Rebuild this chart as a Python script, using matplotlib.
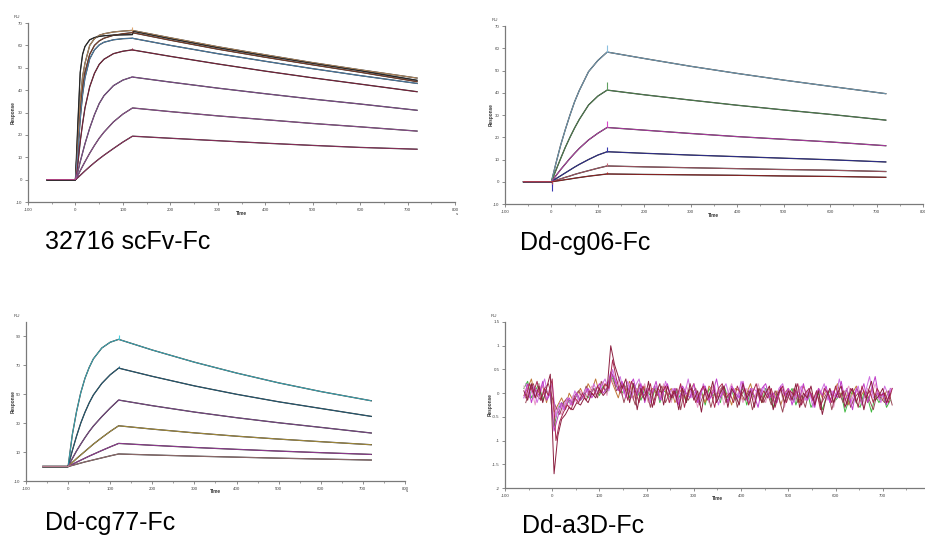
import numpy as np
import matplotlib
matplotlib.use('Agg')
import matplotlib.pyplot as plt
from matplotlib.ticker import MultipleLocator

plt.rcParams['font.family'] = ['Liberation Sans', 'DejaVu Sans']

# --- 32716 scFv-Fc -------------------------------------------------------
P1_TIME = [-60, 0, 5, 10, 15, 20, 30, 40, 50, 60, 80, 100, 120, 122,
           200, 300, 400, 500, 600, 720]
P1_CURVES = [
    [0, 0, 18, 35, 46, 52, 60, 63, 64.5, 65.2, 66.0, 66.4, 66.7, 66.6, 63.4, 59.4, 55.8, 52.3, 49.1, 45.4],
    [0, 0, 14, 30, 41, 48, 56, 60, 62, 63.2, 64.5, 65.2, 65.7, 65.6, 62.3, 58.3, 54.7, 51.3, 48.0, 43.8],
    [0, 0, 25, 48, 56, 59.5, 62.5, 63.5, 64.0, 64.3, 64.6, 64.7, 64.8, 66.3, 63.0, 59.0, 55.4, 52.0, 48.7, 44.4],
    [0, 0, 12, 27, 38, 45.5, 54, 58, 60.2, 61.4, 62.5, 63.0, 63.2, 63.1, 60.0, 56.3, 52.9, 49.6, 46.5, 43.0],
    [0, 0, 7, 17, 25, 32, 41.5, 47.5, 51.5, 53.8, 56.3, 57.4, 58.0, 57.9, 55.1, 51.7, 48.5, 45.5, 42.7, 39.3],
    [0, 0, 3.5, 8, 12, 16, 23, 29, 34, 37.5, 42, 44.5, 45.9, 45.8, 43.6, 40.9, 38.4, 36.0, 33.8, 31.0],
    [0, 0, 1.8, 4, 6, 8, 11.8, 15.3, 18.5, 21.2, 25.8, 29.3, 32.0, 32.0, 30.4, 28.5, 26.8, 25.1, 23.6, 21.7],
    [0, 0, 0.9, 1.9, 2.9, 3.9, 5.8, 7.6, 9.3, 10.9, 13.9, 16.8, 19.4, 19.4, 18.5, 17.4, 16.3, 15.3, 14.4, 13.6],
]
P1_COLORS = ['#e0a870', '#9a4a30', '#303030', '#5a9ad0', '#9a2848', '#a060b0', '#b060b0', '#b03870']
P1_SPIKE = [1.6, 0.6, 0.0, 0.4, 0.9, 0.6, 0.0, 0.0]

# --- Dd-cg06-Fc ----------------------------------------------------------
P2_TIME = [-60, 0, 10, 20, 30, 40, 50, 60, 80, 100, 120, 200, 300, 400, 500, 600, 720]
P2_CURVES = [
    [0, 0, 8.5, 16.5, 23.5, 30, 36, 41, 49.5, 54.5, 58.3, 55.4, 51.9, 48.7, 45.7, 42.9, 39.6],
    [0, 0, 5.3, 10.5, 15.5, 20, 24.2, 28, 34.5, 38.5, 41.2, 39.1, 36.7, 34.4, 32.3, 30.3, 27.7],
    [0, 0, 2.8, 5.5, 8, 10.5, 12.8, 15, 18.8, 21.8, 24.4, 23.2, 21.7, 20.3, 19.1, 17.9, 16.2],
    [0, 0, 1.4, 2.7, 4, 5.3, 6.6, 7.8, 10, 12, 13.5, 12.8, 12.0, 11.3, 10.6, 9.9, 8.9],
    [0, 0, 0.7, 1.3, 2, 2.6, 3.3, 3.9, 5, 6.1, 7.1, 6.7, 6.3, 5.9, 5.5, 5.2, 4.6],
    [0, 0, 0.3, 0.6, 0.95, 1.25, 1.6, 1.9, 2.5, 3.0, 3.5, 3.3, 3.1, 2.9, 2.6, 2.4, 2.0],
]
P2_COLORS = ['#8cc0e0', '#60a060', '#d848c8', '#3838b0', '#c86878', '#b02828']
P2_SPIKE = [3.2, 3.5, 3.0, 2.2, 1.3, 1.0]
P2_DIP = [-1.0, -0.8, -2.0, -4.0, -1.0, -0.6]

# --- Dd-cg77-Fc ----------------------------------------------------------
P3_TIME = [-60, 0, 10, 20, 30, 40, 50, 60, 80, 100, 120, 200, 300, 400, 500, 600, 720]
P3_CURVES = [
    [0, 0, 22, 38, 51, 61, 68.5, 74.5, 82, 86, 88, 80.6, 72.2, 64.7, 57.9, 51.9, 45.5],
    [0, 0, 11, 21, 30, 37.5, 44, 49.5, 57.5, 63.5, 68.1, 62.4, 55.8, 50.0, 44.8, 40.2, 34.7],
    [0, 0, 5.5, 10.8, 15.5, 20, 24.2, 28, 34.5, 40.5, 46, 42.1, 37.7, 33.8, 30.3, 27.1, 23.2],
    [0, 0, 2.8, 5.5, 8, 10.5, 13, 15.5, 20, 24.3, 28.2, 25.9, 23.3, 21.0, 19.0, 17.2, 15.1],
    [0, 0, 1.5, 3, 4.4, 5.8, 7.2, 8.5, 11.1, 13.6, 16, 14.7, 13.2, 11.9, 10.7, 9.6, 8.4],
    [0, 0, 0.8, 1.6, 2.4, 3.2, 3.9, 4.6, 6, 7.4, 8.7, 8.0, 7.2, 6.5, 5.8, 5.2, 4.5],
]
P3_COLORS = ['#48d0e0', '#2a7090', '#9858a8', '#d0b048', '#b848b8', '#b88888']
P3_SPIKE = [3.0, 1.2, 0.8, 0.0, 0.0, 0.0]

# --- Dd-a3D-Fc (noise only, 8 s sampling) ---------------------------------
P4_STEP = 8
P4_STARTS = [-60, -60, -60, -60, -60, -56, -56, -56]
P4_TRACES = [
    [0.05, -0.15, 0.2, -0.1, 0.15, -0.2, 0.1, 0.4,
     -1.7, -0.9, -0.55, -0.45, -0.3, -0.35, -0.2, -0.25, -0.1, -0.2, 0.0, -0.1, 0.1, -0.05, 0.05,
     1.0, 0.6, 0.35, 0.1, 0.3, -0.2, 0.2, -0.35, 0.1, -0.15, 0.25, -0.3, 0.0, 0.2, -0.25, 0.15,
     -0.1, 0.05, -0.35, 0.1, -0.2, 0.2, -0.15, 0.05, -0.4, 0.1, -0.1, 0.25, -0.2, 0.0, 0.15, -0.3,
     0.1, -0.05, -0.25, 0.2, -0.1, 0.05, -0.3, 0.1, -0.2, 0.0, 0.15, -0.35, -0.05, 0.1, -0.2, 0.05,
     -0.15, 0.2, -0.3, 0.0, -0.1, 0.15, -0.25, 0.05, -0.45, -0.1, 0.1, -0.2, 0.0, 0.15, -0.3, -0.05,
     0.1, -0.2, 0.05, -0.35, 0.0, 0.25, -0.15, -0.05, 0.1, -0.2, 0.0],
    [-0.1, 0.2, -0.2, 0.1, -0.05, 0.25, -0.15, 0.0,
     -0.8, -0.5, -0.2, -0.35, -0.1, -0.25, 0.0, -0.15, -0.05, 0.1, -0.1, 0.05, 0.2, 0.0, 0.1,
     0.45, 0.3, 0.05, 0.25, -0.1, 0.15, 0.3, -0.05, 0.2, -0.2, 0.1, 0.0, 0.25, -0.15, 0.05, 0.2,
     -0.1, 0.1, -0.25, 0.15, 0.0, -0.1, 0.2, -0.2, 0.05, 0.15, -0.15, 0.0, 0.3, -0.1, 0.05, -0.2,
     0.15, 0.0, -0.1, 0.25, -0.15, 0.1, -0.05, -0.3, 0.1, 0.2, -0.1, 0.0, -0.2, 0.15, -0.05, 0.1,
     -0.25, 0.05, -0.1, 0.2, -0.15, 0.0, -0.3, 0.1, -0.05, 0.15, -0.2, 0.05, -0.1, 0.25, -0.15, 0.0,
     -0.35, 0.1, -0.05, 0.2, -0.2, 0.05, 0.35, -0.1, 0.0, -0.25, 0.1],
    [0.15, -0.05, 0.1, -0.25, 0.2, 0.0, -0.1, 0.15,
     -0.6, -0.3, -0.45, -0.15, -0.3, -0.05, -0.2, 0.05, -0.1, 0.0, 0.15, -0.05, 0.1, 0.25, -0.05,
     0.35, 0.15, 0.25, -0.05, 0.1, 0.2, -0.15, 0.1, 0.0, 0.2, -0.2, 0.05, 0.15, -0.1, 0.2, 0.0,
     -0.2, 0.1, 0.05, -0.15, 0.15, -0.05, 0.0, -0.3, 0.1, 0.05, -0.2, 0.15, -0.05, 0.1, -0.25, 0.0,
     0.2, -0.1, 0.05, -0.2, 0.1, 0.0, -0.15, 0.2, -0.05, -0.2, 0.1, 0.0, -0.15, 0.05, -0.3, 0.1,
     0.0, -0.1, 0.15, -0.2, 0.05, -0.05, -0.25, 0.1, 0.0, -0.15, 0.1, -0.3, 0.05, -0.1, 0.0, 0.15,
     -0.2, 0.05, -0.1, -0.3, 0.1, -0.05, 0.2, -0.15, 0.0, -0.2, 0.05],
    [0.1, 0.25, -0.1, 0.05, 0.2, -0.15, 0.05, -0.05,
     -0.7, -0.35, -0.2, -0.3, -0.15, -0.2, -0.05, -0.15, 0.0, -0.1, 0.05, 0.1, -0.05, 0.15, 0.0,
     0.4, 0.2, 0.1, 0.0, 0.15, -0.1, 0.2, 0.05, -0.15, 0.1, 0.0, -0.1, 0.15, -0.2, 0.05, 0.0,
     -0.15, 0.1, -0.1, 0.05, -0.2, 0.1, 0.0, -0.15, 0.05, -0.25, 0.1, -0.05, 0.0, -0.2, 0.15, -0.1,
     0.05, -0.15, 0.0, 0.1, -0.25, 0.05, -0.1, 0.0, -0.2, 0.1, -0.05, -0.3, 0.0, 0.05, -0.2, -0.05,
     0.1, -0.25, 0.0, -0.1, 0.05, -0.3, -0.15, 0.0, -0.35, -0.1, 0.05, -0.2, -0.1, 0.0, -0.4, -0.15,
     0.05, -0.2, -0.3, 0.0, -0.1, -0.4, -0.05, -0.2, 0.0, -0.3, -0.15],
    [-0.05, 0.1, 0.3, -0.1, 0.05, 0.15, -0.2, 0.1,
     -0.4, -0.25, -0.1, -0.3, 0.0, -0.15, -0.05, 0.1, -0.1, 0.2, 0.05, 0.3, 0.0, 0.1, 0.2,
     0.3, 0.1, -0.1, 0.2, 0.05, 0.25, -0.1, 0.1, -0.05, 0.15, -0.2, 0.1, 0.0, -0.1, 0.15, -0.05,
     0.1, -0.2, 0.0, 0.1, -0.15, 0.05, 0.2, -0.1, 0.0, -0.2, 0.15, 0.05, -0.1, 0.1, -0.05, 0.0,
     -0.25, 0.1, 0.05, -0.15, 0.0, 0.2, -0.1, 0.05, -0.2, 0.0, 0.1, -0.15, 0.05, -0.25, 0.0, 0.1,
     -0.1, 0.05, -0.2, 0.15, -0.05, 0.0, -0.2, 0.1, -0.1, 0.05, -0.15, 0.0, 0.2, -0.1, 0.05, -0.25,
     0.0, 0.15, -0.1, 0.05, -0.2, 0.1, -0.05, 0.0, -0.15, 0.05, -0.1],
    [-0.1, 0.2, 0.0, 0.25, -0.15, 0.1, -0.05, 0.3,
     -1.0, -0.6, -0.4, -0.25, -0.35, -0.1, -0.2, 0.0, -0.15, 0.05, -0.05, 0.15, 0.0, 0.2, 0.1,
     0.7, 0.3, 0.0, 0.2, -0.15, 0.25, 0.05, -0.2, 0.15, -0.05, 0.2, -0.25, 0.1, 0.0, 0.15, -0.2,
     0.05, -0.1, 0.2, -0.3, 0.05, 0.1, -0.2, 0.0, 0.15, -0.15, 0.05, -0.3, 0.1, 0.2, -0.1, 0.0,
     -0.2, 0.15, -0.05, 0.1, -0.25, 0.0, 0.2, -0.15, 0.05, -0.1, 0.1, -0.3, 0.0, 0.15, -0.2, 0.05,
     -0.05, 0.2, -0.25, 0.0, 0.1, -0.15, 0.05, -0.35, 0.1, 0.0, -0.2, 0.15, -0.1, 0.05, -0.25, 0.1,
     0.0, -0.3, 0.15, -0.1, 0.05, -0.2, 0.1, -0.05, 0.0, -0.2, 0.1],
    [0.2, -0.1, 0.15, -0.2, 0.05, 0.3, -0.1, 0.2,
     -0.5, -0.2, -0.35, -0.1, -0.25, 0.05, -0.15, -0.05, 0.1, -0.1, 0.2, 0.0, 0.15, 0.3, 0.05,
     0.5, 0.2, 0.35, 0.0, 0.25, -0.1, 0.15, 0.3, -0.05, 0.1, -0.2, 0.15, 0.05, -0.15, 0.25, 0.0,
     0.1, -0.2, 0.15, -0.05, 0.3, -0.1, 0.05, -0.2, 0.2, 0.0, -0.1, 0.15, -0.25, 0.05, 0.2, -0.1,
     0.1, -0.15, 0.25, 0.0, -0.2, 0.1, 0.05, -0.15, 0.15, -0.1, 0.0, -0.25, 0.1, 0.2, -0.1, 0.05,
     -0.2, 0.0, 0.15, -0.15, 0.1, -0.3, 0.05, 0.0, 0.2, -0.15, 0.05, -0.1, 0.3, -0.05, 0.1, -0.2,
     0.0, 0.15, -0.25, 0.05, 0.35, -0.1, 0.0, -0.2, 0.15, -0.05, 0.1],
    [-0.2, 0.05, 0.2, -0.05, -0.15, 0.1, 0.2, -0.1,
     -0.3, -0.45, -0.2, -0.1, -0.25, -0.05, 0.05, -0.1, 0.15, -0.05, 0.1, -0.1, 0.25, 0.05, 0.15,
     0.4, 0.05, 0.15, -0.2, 0.1, 0.0, -0.25, 0.2, -0.1, 0.05, -0.3, 0.1, -0.05, 0.15, -0.2, 0.0,
     -0.1, 0.1, -0.35, 0.05, -0.15, 0.0, 0.1, -0.25, -0.05, 0.05, -0.3, 0.0, -0.1, 0.15, -0.2, -0.05,
     0.1, -0.3, 0.0, -0.15, 0.05, -0.35, -0.1, 0.1, -0.2, 0.0, -0.25, 0.05, -0.1, -0.4, 0.0, -0.15,
     0.1, -0.2, -0.05, -0.3, 0.05, -0.15, 0.0, -0.25, -0.1, 0.05, -0.35, -0.05, 0.0, -0.2, 0.1, -0.3,
     -0.1, 0.0, -0.25, 0.05, -0.15, -0.35, 0.0, -0.1, -0.2, 0.05, -0.25],
]
P4_COLORS = ['#8b1e3f', '#c03cc8', '#e89cc8', '#40b840', '#c07838',
             '#a82850', '#d070e0', '#9a4858']
P4_ORDER = [3, 4, 2, 7, 6, 1, 5, 0]

TITLES = ['32716 scFv-Fc', 'Dd-cg06-Fc', 'Dd-cg77-Fc', 'Dd-a3D-Fc']
XTICKS = list(range(-100, 801, 100))

GREY = '#7a7a7a'


def style_axes(ax, ylim, yticks, show_s=True, xlabels=XTICKS):
    ax.set_xlim(-100, 800)
    ax.set_ylim(*ylim)
    ax.set_xticks(XTICKS)
    ax.set_xticklabels([str(v) if v in xlabels else '' for v in XTICKS])
    ax.set_yticks(yticks)
    ax.set_yticklabels(['%g' % v for v in yticks])
    ax.xaxis.set_minor_locator(MultipleLocator(50))
    for side in ('top', 'right'):
        ax.spines[side].set_visible(False)
    for side in ('left', 'bottom'):
        ax.spines[side].set_color(GREY)
        ax.spines[side].set_linewidth(0.9)
    ax.tick_params(which='major', length=2.5, width=0.6, color=GREY,
                   labelsize=3.2, labelcolor='#444444', pad=1.5)
    ax.tick_params(which='minor', length=1.5, width=0.5, color=GREY)
    ax.patch.set_alpha(0)
    ax.text(0.5, -0.065, 'Time', transform=ax.transAxes, ha='center',
            va='center', fontsize=3.4, color='#333333', fontweight='bold')
    ax.text(-0.034, 0.5, 'Response', transform=ax.transAxes, rotation=90,
            ha='center', va='center', fontsize=3.4, color='#333333', fontweight='bold')
    ax.text(-0.025, 1.035, 'RU', transform=ax.transAxes, ha='center',
            va='center', fontsize=3.2, color='#444444')
    if show_s:
        ax.text(1.005, -0.065, 's', transform=ax.transAxes, ha='center',
                va='center', fontsize=3.2, color='#444444')


def draw_kinetics(ax, times, curves, colors, spikes):
    # black fitted curves under thin coloured sensorgram traces
    for ys in curves:
        ax.plot(times, ys, color='#151515', lw=0.9)
    for ys, c, sp in zip(curves, colors, spikes):
        ax.plot(times, ys, color=c, lw=0.55, alpha=0.95)
        if sp:
            top = ys[times.index(120)]
            ax.vlines(120, top, top + sp, color=c, lw=0.8)


fig = plt.figure(figsize=(9.25, 5.39), dpi=100)

ax1 = fig.add_axes([0.0303, 0.6252, 0.4616, 0.3321])
draw_kinetics(ax1, P1_TIME, P1_CURVES, P1_COLORS, P1_SPIKE)
style_axes(ax1, (-10, 70), list(range(-10, 71, 10)))

ax2 = fig.add_axes([0.5459, 0.6215, 0.4519, 0.3302])
draw_kinetics(ax2, P2_TIME, P2_CURVES, P2_COLORS, P2_SPIKE)
for dip, c in zip(P2_DIP, P2_COLORS):
    ax2.vlines(1, dip, 0, color=c, lw=0.8)
style_axes(ax2, (-10, 70), list(range(-10, 71, 10)), show_s=False)

ax3 = fig.add_axes([0.0281, 0.1076, 0.4097, 0.2950])
draw_kinetics(ax3, P3_TIME, P3_CURVES, P3_COLORS, P3_SPIKE)
style_axes(ax3, (-10, 100), list(range(-10, 91, 20)))

ax4 = fig.add_axes([0.5459, 0.0946, 0.4595, 0.3080])
for i in P4_ORDER:
    ys = P4_TRACES[i]
    ts = P4_STARTS[i] + P4_STEP * np.arange(len(ys))
    ax4.plot(ts, ys, color=P4_COLORS[i], lw=0.7)
style_axes(ax4, (-2, 1.5), [-2, -1.5, -1, -0.5, 0, 0.5, 1, 1.5], show_s=False,
           xlabels=XTICKS[:-1])

title_pos = [(45, 242), (520, 243), (45, 523), (522, 526)]
for (px, py), title in zip(title_pos, TITLES):
    fig.text(px / 925, 1 - py / 539, title, ha='left', va='center',
             fontsize=18, color='black')

fig.savefig('out.png', dpi=100)
